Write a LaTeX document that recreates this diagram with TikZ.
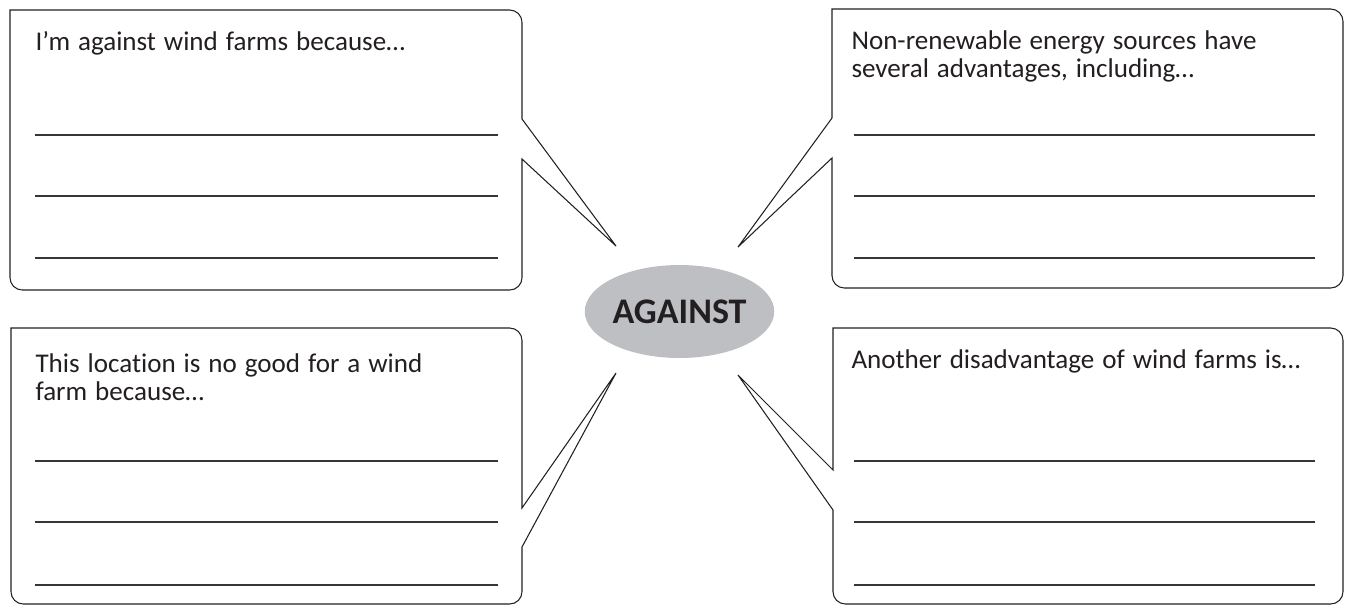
\documentclass[tikz,border=0pt]{standalone}
\usepackage{fontspec}
\setmainfont{Carlito}[Ligatures=NoCommon,WordSpace=1.3]
\usetikzlibrary{shapes.geometric}
\definecolor{ovalgray}{RGB}{190,191,195}
\definecolor{inkgray}{RGB}{35,31,32}

\begin{document}
\begin{tikzpicture}[x=0.02cm,y=-0.02cm,line width=0.6pt,
  bubble/.style={draw=inkgray,line join=miter},
  writeline/.style={draw=inkgray!90},
  prompt/.style={anchor=base west,inner sep=0pt,align=left,text=inkgray,
    font=\fontsize{15.4pt}{15.4pt}\selectfont}]
\useasboundingbox (0,0) rectangle (1349,606);

% centre oval
\node[ellipse,fill=ovalgray,minimum width=3.34cm,minimum height=1.86cm,inner sep=0pt,
  font=\fontsize{20.5pt}{22pt}\selectfont\bfseries,text=inkgray] (against) at (679.5,311.5) {AGAINST};
\coordinate (tltip) at (616,246);
\coordinate (trtip) at (738,247);
\coordinate (bltip) at (616,373);
\coordinate (brtip) at (738,375);

% top left bubble
\draw[bubble] (522,159) -- (522,220) [rounded corners=7pt] -- (522,290) -- (10,290) -- (10,150)
  [sharp corners] -- (10,10) -- (260,10) [rounded corners=7pt] -- (522,10) -- (522,60)
  [sharp corners] -- (522,119) -- (tltip) -- cycle;
% top right bubble
\draw[bubble] (832,118) -- (832,60) -- (832,9) -- (1100,9) [rounded corners=7pt] -- (1343,9)
  -- (1343,288) -- (832,288) -- (832,220) [sharp corners] -- (832,158) -- (trtip) -- cycle;
% bottom left bubble
\draw[bubble] (522,547) -- (522,575) [rounded corners=7pt] -- (522,604) -- (11,604) -- (11,450)
  [sharp corners] -- (11,328) -- (260,328) [rounded corners=7pt] -- (522,328) -- (522,420)
  [sharp corners] -- (522,508) -- (bltip) -- cycle;
% bottom right bubble
\draw[bubble] (833,470) -- (833,400) -- (833,328) -- (1100,328) [rounded corners=7pt] -- (1343,328)
  -- (1343,604) -- (833,604) -- (833,560) [sharp corners] -- (833,510) -- (brtip) -- cycle;

% lines to write on
\foreach \y in {135,196,258}{
  \draw[writeline] (35,\y) -- (498,\y);
  \draw[writeline] (854,\y) -- (1315,\y);
}
\foreach \y in {461,522,585}{
  \draw[writeline] (35,\y) -- (498,\y);
  \draw[writeline] (854,\y) -- (1315,\y);
}

% prompts (two line ones sit on their last line)
\node[prompt] (tlprompt) at (35,50) {I’m against wind farms because…};
\node[prompt] (trprompt) at (851,77) {Non-renewable energy sources have\\several advantages, including…};
\node[prompt] (blprompt) at (35,400) {This location is no good for a wind\\farm because…};
\node[prompt] (brprompt) at (851,368) {Another disadvantage of wind farms is…};
\end{tikzpicture}
\end{document}
